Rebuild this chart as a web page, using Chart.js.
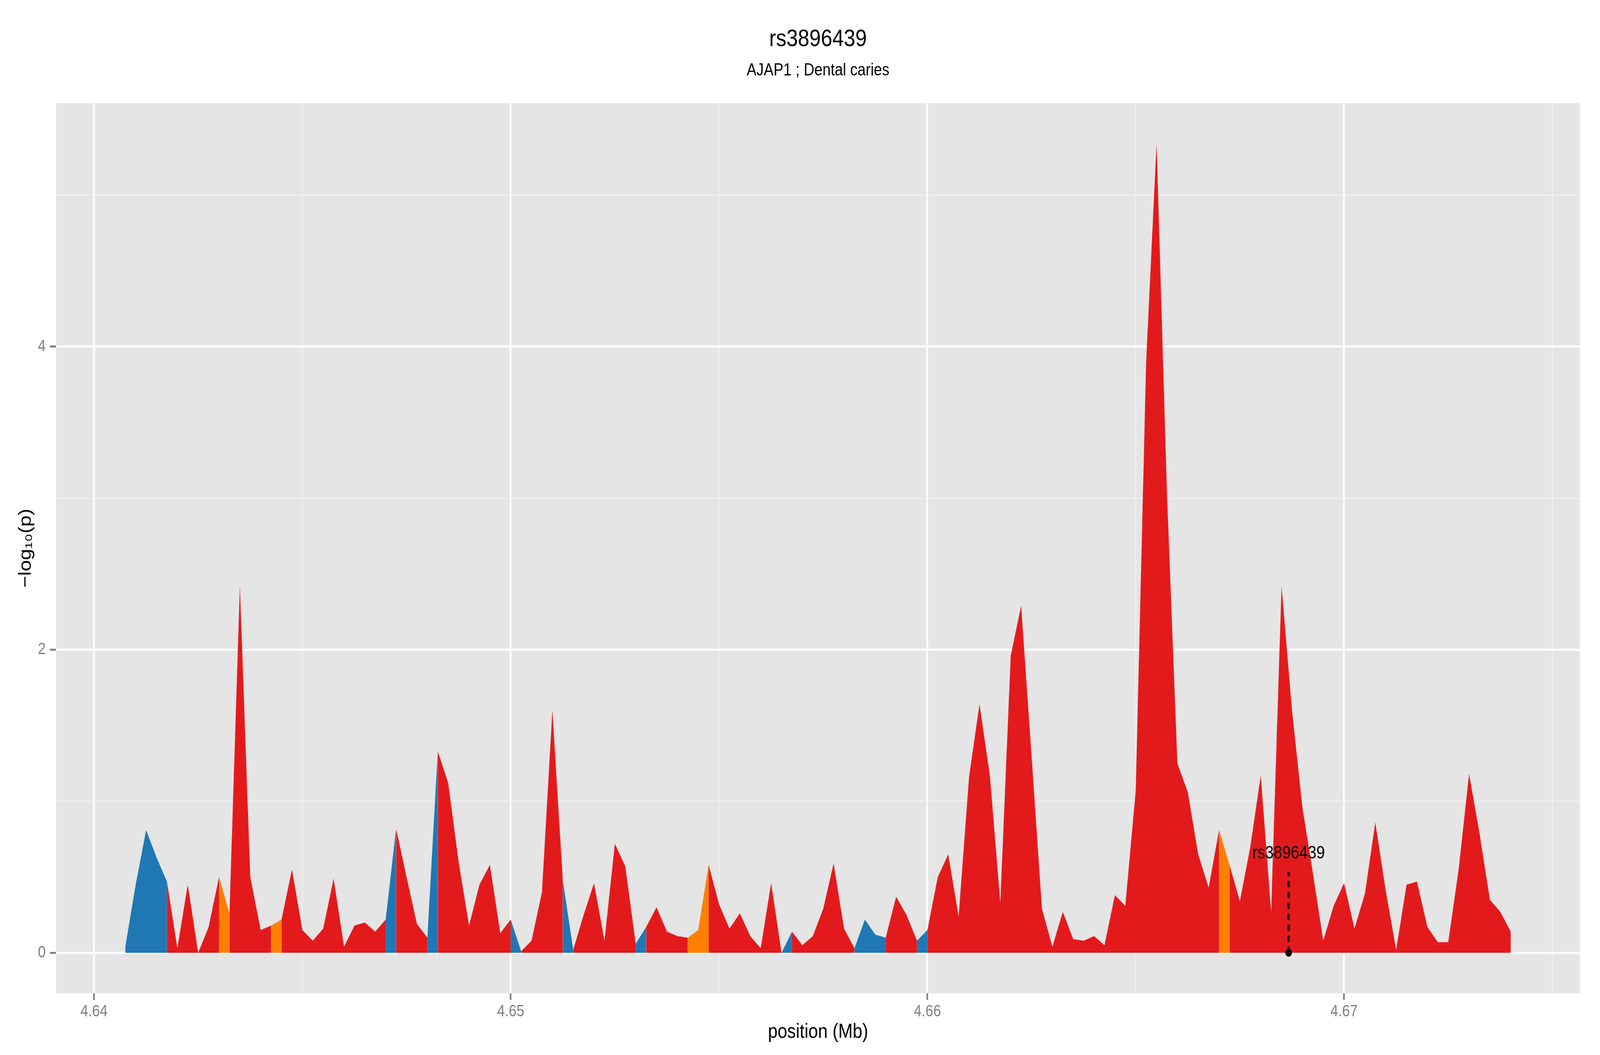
<!DOCTYPE html>
<html>
<head>
<meta charset="utf-8">
<script src="https://cdn.jsdelivr.net/npm/chart.js@4.4.1/dist/chart.umd.min.js"></script>
<style>
  html, body { margin: 0; padding: 0; background: #ffffff; overflow: hidden; }
  #viewport { position: fixed; left: 0; top: 0; width: 100vw; height: 100vh; overflow: hidden; background: #ffffff; }
  #stage { position: absolute; left: 0; top: 0; width: 4800px; height: 2700px; transform-origin: 0 0; }
  canvas { display: block; }
</style>
</head>
<body>
<div id="viewport"><div id="stage">
<canvas id="c" width="4800" height="2700" style="width:4800px;height:2700px"></canvas>
</div></div>
<script>
// ---------------- data ----------------
const titleText = 'rs3896439';
const subtitleText = 'AJAP1 ; Dental caries';
const xAxisTitle = 'position (Mb)';
const yAxisTitle = '\u2212log\u2081\u2080(p)';

const positionsMb = [
  4.64075, 4.64100, 4.64125, 4.64150,
  4.64175, 4.64200, 4.64225, 4.64250,
  4.64275, 4.64300, 4.64325, 4.64350,
  4.64375, 4.64400, 4.64425, 4.64450,
  4.64475, 4.64500, 4.64525, 4.64550,
  4.64575, 4.64600, 4.64625, 4.64650,
  4.64675, 4.64700, 4.64725, 4.64750,
  4.64775, 4.64800, 4.64825, 4.64850,
  4.64875, 4.64900, 4.64925, 4.64950,
  4.64975, 4.65000, 4.65025, 4.65050,
  4.65075, 4.65100, 4.65125, 4.65150,
  4.65175, 4.65200, 4.65225, 4.65250,
  4.65275, 4.65300, 4.65325, 4.65350,
  4.65375, 4.65400, 4.65425, 4.65450,
  4.65475, 4.65500, 4.65525, 4.65550,
  4.65575, 4.65600, 4.65625, 4.65650,
  4.65675, 4.65700, 4.65725, 4.65750,
  4.65775, 4.65800, 4.65825, 4.65850,
  4.65875, 4.65900, 4.65925, 4.65950,
  4.65975, 4.66000, 4.66025, 4.66050,
  4.66075, 4.66100, 4.66125, 4.66150,
  4.66175, 4.66200, 4.66225, 4.66250,
  4.66275, 4.66300, 4.66325, 4.66350,
  4.66375, 4.66400, 4.66425, 4.66450,
  4.66475, 4.66500, 4.66525, 4.66550,
  4.66575, 4.66600, 4.66625, 4.66650,
  4.66675, 4.66700, 4.66725, 4.66750,
  4.66775, 4.66800, 4.66825, 4.66850,
  4.66875, 4.66900, 4.66925, 4.66950,
  4.66975, 4.67000, 4.67025, 4.67050,
  4.67075, 4.67100, 4.67125, 4.67150,
  4.67175, 4.67200, 4.67225, 4.67250,
  4.67275, 4.67300, 4.67325, 4.67350,
  4.67375, 4.67400
];

const negLog10P = [
  0.04, 0.45, 0.81, 0.63, 0.47, 0.03, 0.45, 0.00, 0.17, 0.50,
  0.26, 2.42, 0.50, 0.15, 0.18, 0.22, 0.55, 0.15, 0.08, 0.16,
  0.49, 0.04, 0.18, 0.20, 0.14, 0.22, 0.82, 0.50, 0.19, 0.10,
  1.33, 1.12, 0.60, 0.18, 0.45, 0.58, 0.13, 0.22, 0.01, 0.08,
  0.40, 1.60, 0.48, 0.02, 0.25, 0.46, 0.08, 0.72, 0.57, 0.06,
  0.17, 0.30, 0.14, 0.11, 0.10, 0.15, 0.58, 0.32, 0.16, 0.26,
  0.11, 0.03, 0.46, 0.00, 0.14, 0.05, 0.11, 0.29, 0.59, 0.16,
  0.03, 0.22, 0.12, 0.10, 0.37, 0.25, 0.08, 0.15, 0.50, 0.65,
  0.24, 1.16, 1.64, 1.17, 0.33, 1.96, 2.29, 1.30, 0.29, 0.04,
  0.27, 0.09, 0.08, 0.11, 0.05, 0.38, 0.31, 1.07, 3.90, 5.34,
  3.03, 1.25, 1.06, 0.65, 0.43, 0.81, 0.58, 0.34, 0.70, 1.17,
  0.27, 2.42, 1.60, 0.96, 0.53, 0.08, 0.31, 0.46, 0.16, 0.39,
  0.86, 0.41, 0.02, 0.45, 0.47, 0.17, 0.07, 0.07, 0.55, 1.18,
  0.79, 0.35, 0.27, 0.14
];

// class of each interval between consecutive points (B = blue, R = red, O = orange)
const intervalClass = [
  'B','B','B','B','R','R','R','R','R','O',
  'R','R','R','R','O','R','R','R','R','R',
  'R','R','R','R','R','B','R','R','R','B',
  'R','R','R','R','R','R','R','B','R','R',
  'R','R','B','R','R','R','R','R','R','B',
  'R','R','R','R','O','O','R','R','R','R',
  'R','R','R','B','R','R','R','R','R','R',
  'B','B','B','R','R','R','B','R','R','R',
  'R','R','R','R','R','R','R','R','R','R',
  'R','R','R','R','R','R','R','R','R','R',
  'R','R','R','R','R','O','R','R','R','R',
  'R','R','R','R','R','R','R','R','R','R',
  'R','R','R','R','R','R','R','R','R','R',
  'R','R','R'
];

const xTickValues = [4.64, 4.645, 4.65, 4.655, 4.66, 4.665, 4.67, 4.675];
const xTickLabels = ['4.64', '', '4.65', '', '4.66', '', '4.67', ''];
const yTickValues = [0, 1, 2, 3, 4, 5];
const yTickLabels = ['0', '', '2', '', '4', ''];

const snpName = 'rs3896439';
const snpPosMb = 4.66867;
const snpLineTop = 0.533;
const snpLabelY = 0.623;

// ---------------- styles ----------------
const classColor = { B: '#1F78B4', R: '#E31A1C', O: '#FF7F00' };
const FONT = '"Liberation Sans", Arial, Helvetica, sans-serif';
const panelBg = '#E5E5E5';
const tickGrey = '#7F7F7F';

// fit the 4800x2700 drawing to the actual viewport
(function fitStage() {
  const sx = (window.innerWidth || 4800) / 4800;
  const sy = (window.innerHeight || 2700) / 2700;
  document.getElementById('stage').style.transform = 'scale(' + sx + ',' + sy + ')';
})();

const areaData = positionsMb.map((x, i) => ({ x: x, y: negLog10P[i] }));

const panelPlugin = {
  id: 'panel',
  beforeDraw(chart) {
    const { ctx, chartArea: a } = chart;
    ctx.save();
    ctx.fillStyle = '#ffffff';
    ctx.fillRect(0, 0, chart.width, chart.height);
    ctx.fillStyle = panelBg;
    ctx.fillRect(a.left, a.top, a.right - a.left, a.bottom - a.top);
    ctx.restore();
  }
};

const labelPlugin = {
  id: 'snpLabel',
  afterDatasetsDraw(chart) {
    const { ctx, scales: { x, y } } = chart;
    ctx.save();
    ctx.font = '46px ' + FONT;
    ctx.fillStyle = '#000000';
    ctx.textAlign = 'center';
    ctx.textBaseline = 'alphabetic';
    ctx.fillText(snpName, x.getPixelForValue(snpPosMb), y.getPixelForValue(snpLabelY));
    ctx.restore();
  }
};

function gridColor(labels) {
  return c => (labels[c.index] ? '#FFFFFF' : '#F2F2F2');
}
function gridWidth(labels) {
  return c => (labels[c.index] ? 5.5 : 2.5);
}
function tickColor(labels) {
  return c => (labels[c.index] ? tickGrey : 'rgba(0,0,0,0)');
}

new Chart(document.getElementById('c'), {
  type: 'line',
  data: {
    datasets: [
      {
        label: 'area',
        data: areaData,
        parsing: false,
        fill: 'origin',
        borderWidth: 0,
        borderColor: 'rgba(0,0,0,0)',
        backgroundColor: classColor.R,
        pointRadius: 0,
        tension: 0,
        segment: {
          backgroundColor: ctx => classColor[intervalClass[ctx.p0DataIndex]]
        },
        order: 3
      },
      {
        label: 'snpLine',
        data: [{ x: snpPosMb, y: 0 }, { x: snpPosMb, y: snpLineTop }],
        parsing: false,
        fill: false,
        borderColor: '#000000',
        borderWidth: 6,
        borderDash: [16, 12],
        pointRadius: 0,
        order: 2
      },
      {
        type: 'scatter',
        label: 'snpPoint',
        data: [{ x: snpPosMb, y: 0 }],
        parsing: false,
        pointRadius: 10,
        pointBackgroundColor: '#000000',
        pointBorderWidth: 0,
        order: 1
      }
    ]
  },
  options: {
    responsive: false,
    animation: false,
    devicePixelRatio: 1,
    layout: { padding: { left: 0, right: 60, top: 0, bottom: 0 } },
    plugins: {
      legend: { display: false },
      tooltip: { enabled: false },
      title: {
        display: true,
        fullSize: false,
        text: titleText,
        color: '#000000',
        font: { family: FONT, size: 62, weight: 'normal', lineHeight: 1.2 },
        padding: { top: 64, bottom: 0 }
      },
      subtitle: {
        display: true,
        fullSize: false,
        text: subtitleText,
        color: '#000000',
        font: { family: FONT, size: 44, weight: 'normal', lineHeight: 1.2 },
        padding: { top: 16, bottom: 56.8 }
      }
    },
    scales: {
      x: {
        type: 'linear',
        position: 'bottom',
        min: 4.6390875,
        max: 4.6756625,
        afterBuildTicks: s => { s.ticks = xTickValues.map(v => ({ value: v })); },
        afterFit: s => { s.height = 158; },
        border: { display: false },
        grid: {
          color: gridColor(xTickLabels),
          lineWidth: gridWidth(xTickLabels),
          drawTicks: true,
          tickLength: 17,
          tickWidth: 5,
          tickColor: tickColor(xTickLabels)
        },
        ticks: {
          autoSkip: false,
          maxRotation: 0,
          color: tickGrey,
          padding: 5,
          font: { family: FONT, size: 42 },
          callback: (v, i) => xTickLabels[i]
        },
        title: {
          display: true,
          text: xAxisTitle,
          color: '#000000',
          font: { family: FONT, size: 52, lineHeight: 1.2 },
          padding: { top: 0, bottom: 27 }
        }
      },
      y: {
        type: 'linear',
        min: -0.267,
        max: 5.607,
        afterBuildTicks: s => { s.ticks = yTickValues.map(v => ({ value: v })); },
        afterFit: s => { s.width = 168; },
        border: { display: false },
        grid: {
          color: gridColor(yTickLabels),
          lineWidth: gridWidth(yTickLabels),
          drawTicks: true,
          tickLength: 18,
          tickWidth: 5,
          tickColor: tickColor(yTickLabels)
        },
        ticks: {
          autoSkip: false,
          color: tickGrey,
          padding: 13,
          font: { family: FONT, size: 42 },
          callback: (v, i) => yTickLabels[i]
        },
        title: {
          display: true,
          text: yAxisTitle,
          color: '#000000',
          font: { family: FONT, size: 52, lineHeight: 1.2 },
          padding: { top: 46, bottom: 0 }
        }
      }
    }
  },
  plugins: [panelPlugin, labelPlugin]
});
</script>
</body>
</html>
